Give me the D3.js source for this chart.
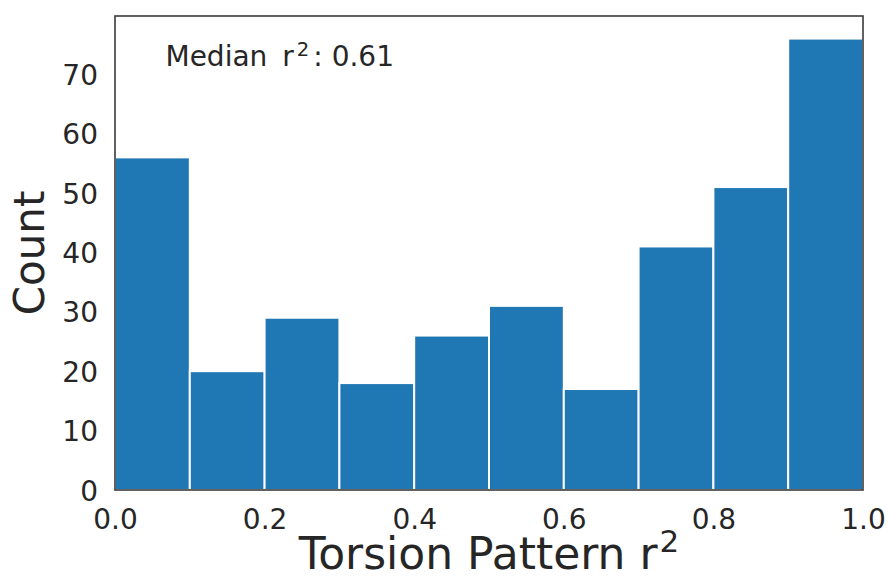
<!DOCTYPE html>
<html>
<head>
<meta charset="utf-8">
<script src="https://cdn.jsdelivr.net/npm/d3@7"></script>
<style>
  body { margin: 0; background: #fff; }
  text { font-family: "DejaVu Sans", sans-serif; fill: #262626; }
</style>
</head>
<body>
<svg id="chart" width="889" height="578"></svg>
<script>
// histogram bins of r^2 (width 0.1) and their counts
const binStarts = [0.0, 0.1, 0.2, 0.3, 0.4, 0.5, 0.6, 0.7, 0.8, 0.9];
const counts = [56, 20, 29, 18, 26, 31, 17, 41, 51, 76];
const xTicks = [0.0, 0.2, 0.4, 0.6, 0.8, 1.0];
const yTicks = [0, 10, 20, 30, 40, 50, 60, 70];
const medianR2 = 0.61;

const margin = {top: 16, right: 26, bottom: 88, left: 115};
const width = 889 - margin.left - margin.right;
const height = 578 - margin.top - margin.bottom;

const svg = d3.select('#chart');
const graph = svg.append('g')
    .attr('transform', `translate(${margin.left}, ${margin.top})`);

// x from 0 to 1, y padded like matplotlib (5% headroom)
const xScale = d3.scaleLinear().domain([0, 1]).range([0, width]);
const yScale = d3.scaleLinear().domain([0, d3.max(counts) * 1.05]).range([height, 0]);

// bars with white edges
graph.selectAll('.bar')
    .data(binStarts)
    .enter().append('rect')
    .attr('class', 'bar')
    .attr('x', d => xScale(d))
    .attr('width', d => xScale(d + 0.1) - xScale(d))
    .attr('y', (d, i) => yScale(counts[i]))
    .attr('height', (d, i) => height - yScale(counts[i]))
    .attr('fill', '#1f77b4')
    .attr('stroke', '#ffffff')
    .attr('stroke-width', 2);

// axes, ticks hidden like seaborn white style
const xAxis = d3.axisBottom(xScale)
    .tickValues(xTicks)
    .tickFormat(d3.format('.1f'))
    .tickSize(0)
    .tickPadding(14);
const yAxis = d3.axisLeft(yScale)
    .tickValues(yTicks)
    .tickSize(0)
    .tickPadding(17);

const gx = graph.append('g')
    .attr('transform', `translate(0, ${height})`)
    .call(xAxis);
const gy = graph.append('g').call(yAxis);

[gx, gy].forEach(g => {
    g.select('.domain').remove();
    g.selectAll('text')
        .attr('font-family', '"DejaVu Sans", sans-serif')
        .attr('font-size', 28)
        .attr('fill', '#262626');
});
gx.selectAll('text').attr('dy', '0.9em');
gy.selectAll('text').attr('dy', '0.36em');

// frame around the plot
graph.append('rect')
    .attr('width', width)
    .attr('height', height)
    .attr('fill', 'none')
    .attr('stroke', '#3a3a3a')
    .attr('stroke-width', 1.6);

// axis titles
const xLabel = svg.append('text')
    .attr('x', margin.left + width / 2)
    .attr('y', 569)
    .attr('text-anchor', 'middle')
    .attr('font-size', 44);
xLabel.append('tspan').text('Torsion Pattern r');
xLabel.append('tspan').attr('dx', 2).attr('dy', -17).attr('font-size', 31).text('2');

svg.append('text')
    .attr('transform', `translate(44, ${margin.top + height / 2}) rotate(-90)`)
    .attr('text-anchor', 'middle')
    .attr('font-size', 42)
    .text('Count');

// median annotation
const note = graph.append('text')
    .attr('x', xScale(0.0675))
    .attr('y', yScale(71.4))
    .attr('font-size', 28);
note.append('tspan').text('Median');
note.append('tspan').attr('dx', 15).text('r');
note.append('tspan').attr('dx', 3).attr('dy', -10).attr('font-size', 19.6).text('2');
note.append('tspan').attr('dx', 4).attr('dy', 10).text(`: ${medianR2.toFixed(2)}`);
</script>
</body>
</html>
